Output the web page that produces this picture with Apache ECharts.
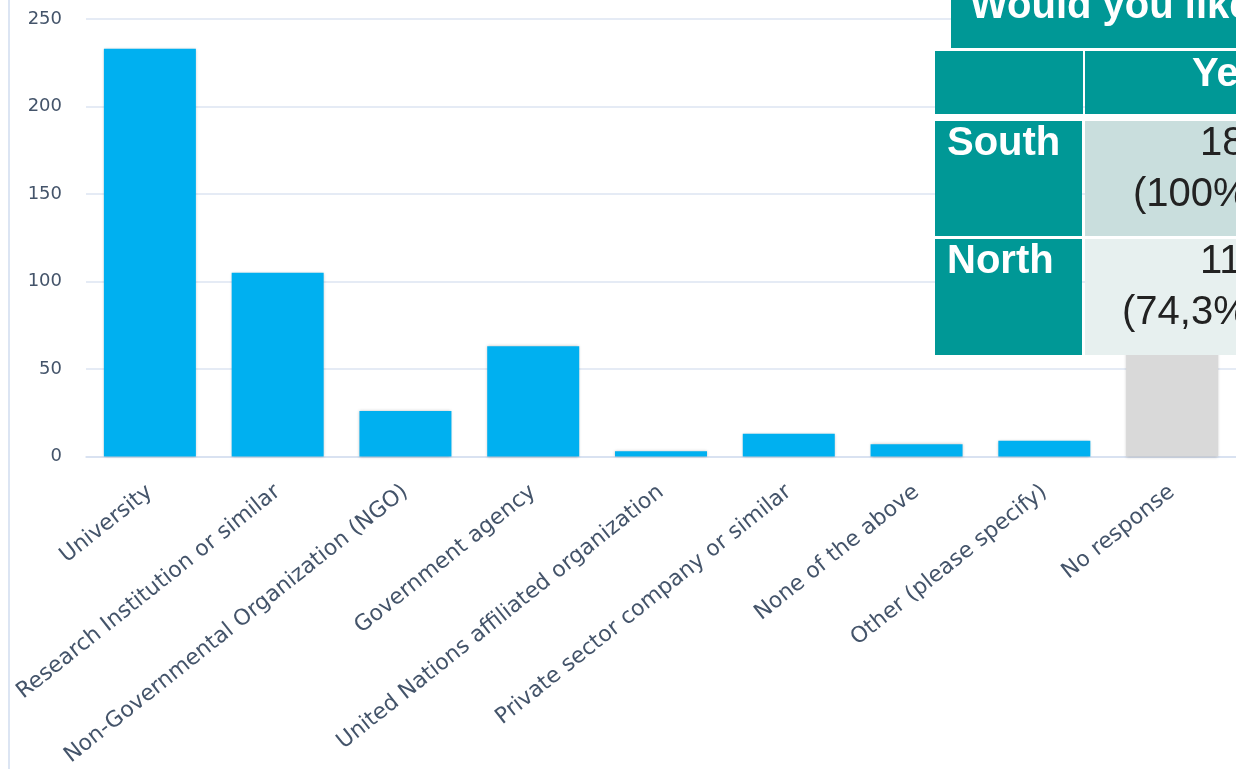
<!DOCTYPE html>
<html>
<head>
<meta charset="utf-8">
<script src="https://cdn.jsdelivr.net/npm/echarts@6/dist/echarts.min.js"></script>
<style>
html,body{margin:0;padding:0;background:#fff;}
#c{width:1236px;height:769px;}
</style>
</head>
<body>
<div id="c"></div>
<script>
// ---- data ----
var categories = ['University','Research Institution or similar','Non-Governmental Organization (NGO)','Government agency','United Nations affiliated organization','Private sector company or similar','None of the above','Other (please specify)','No response'];
var counts = [233, 105, 26, 63, 3, 13, 7, 9, 70];
var yTicks = [0, 50, 100, 150, 200, 250];
var tableTitle = 'Would you like';
var tableHeader = ['', 'Yes'];
var rowLabels = ['South', 'North'];
var yesCounts = ['18', '11'];
var yesPct = ['(100%)', '(74,3%)'];

var chart = echarts.init(document.getElementById('c'));
var teal = '#009896';
var cellFill = ['#C9DEDD', '#E7F0EF'];
var tf = '"Liberation Sans", Arial, sans-serif';
var af = '"DejaVu Sans", sans-serif';
var labelColor = '#44546A';

var barData = counts.map(function (v, i) {
  return {
    value: v,
    itemStyle: { color: categories[i] === 'No response' ? '#D9D9D9' : '#00B0F0' }
  };
});

// text helper: y given as baseline
function txt(x, baseline, s, color, bold) {
  return { type: 'text', x: x, y: baseline - 34, z: 101,
    style: { text: s, fill: color, font: (bold ? 'bold ' : '') + '40px ' + tf } };
}

var graphics = [];
graphics.push({ type: 'rect', shape: { x: 8, y: 0, width: 2, height: 769 }, style: { fill: '#DCE5F3' }, z: 1 });
var rows = [ { y: 121, h: 115 }, { y: 239, h: 116 } ];
graphics.push({ type: 'rect', shape: { x: 951, y: 0, width: 300, height: 48 }, style: { fill: teal }, z: 100 });
graphics.push(txt(970, 21, tableTitle, '#fff', true));
graphics.push({ type: 'rect', shape: { x: 935, y: 51, width: 148, height: 63 }, style: { fill: teal }, z: 100 });
graphics.push({ type: 'rect', shape: { x: 1085, y: 51, width: 200, height: 63 }, style: { fill: teal }, z: 100 });
graphics.push(txt(947, 89, tableHeader[0], '#fff', true));
graphics.push(txt(1192, 89, tableHeader[1], '#fff', true));
var countX = [1200, 1200], pctX = [1133, 1122];
rows.forEach(function (r, i) {
  graphics.push({ type: 'rect', shape: { x: 935, y: r.y, width: 147, height: r.h }, style: { fill: teal }, z: 100 });
  graphics.push({ type: 'rect', shape: { x: 1085, y: r.y, width: 200, height: r.h }, style: { fill: cellFill[i] }, z: 100 });
  graphics.push(txt(947, r.y + 37, rowLabels[i], '#fff', true));
  graphics.push(txt(countX[i], r.y + 37, yesCounts[i], '#222', false));
  graphics.push(txt(pctX[i], r.y + 87.5, yesPct[i], '#222', false));
});

chart.setOption({
  animation: false,
  backgroundColor: '#fff',
  grid: { left: 86, right: -6, top: 19, bottom: 312.5, containLabel: false },
  xAxis: {
    type: 'category',
    data: categories,
    axisLine: { show: true, lineStyle: { color: '#D5DFEF', width: 1.5 } },
    axisTick: { show: false },
    axisLabel: { interval: 0, rotate: 38.5, margin: 33, fontFamily: af, fontSize: 22, color: labelColor }
  },
  yAxis: {
    type: 'value',
    min: 0, max: 250, interval: 50,
    axisLine: { show: false },
    axisTick: { show: false },
    splitLine: { lineStyle: { color: '#DCE4F2', width: 1.5 } },
    axisLabel: { margin: 24, fontFamily: af, fontSize: 18, color: labelColor,
      formatter: function (v) { return yTicks.indexOf(v) >= 0 ? String(v) : ''; } }
  },
  series: [{
    type: 'bar',
    data: barData,
    barWidth: '72%',
    itemStyle: { shadowBlur: 3, shadowColor: 'rgba(0,0,0,0.25)', shadowOffsetX: 0, shadowOffsetY: 0 }
  }],
  graphic: graphics
});
</script>
</body>
</html>
